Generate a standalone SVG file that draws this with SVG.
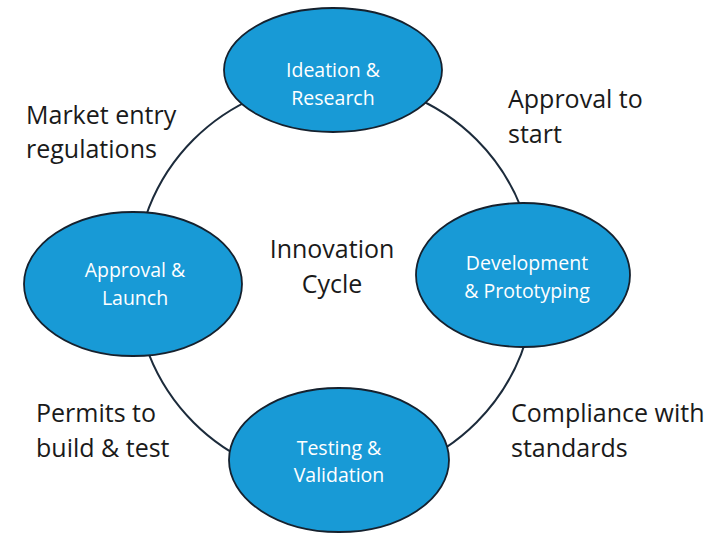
<svg xmlns="http://www.w3.org/2000/svg" width="724" height="534" viewBox="0 0 724 534">
  <style>
    .ring { fill: none; stroke: #1c2b3b; stroke-width: 2; }
    .node { fill: #189ad6; stroke: #15212e; stroke-width: 1.8; }
    .ntext { font-family: "Open Sans", "Liberation Sans", sans-serif; font-size: 19.5px; fill: #ffffff; text-anchor: middle; }
    .label { font-family: "Open Sans", "Liberation Sans", sans-serif; font-size: 25px; fill: #1a1a1a; }
  </style>
  <rect width="724" height="534" fill="#ffffff"/>

  <!-- cycle ring linking the stages -->
  <g id="connectors">
    <circle class="ring" cx="335" cy="281" r="200"/>
  </g>

  <g id="ideation">
    <ellipse class="node" cx="333" cy="70" rx="109" ry="62"/>
    <text class="ntext" x="333" y="77">Ideation &amp;</text>
    <text class="ntext" x="333" y="105">Research</text>
  </g>

  <g id="development">
    <ellipse class="node" cx="523" cy="275" rx="107" ry="72"/>
    <text class="ntext" x="527" y="270">Development</text>
    <text class="ntext" x="527" y="298">&amp; Prototyping</text>
  </g>

  <g id="approval">
    <ellipse class="node" cx="133" cy="284" rx="109" ry="72"/>
    <text class="ntext" x="135" y="277">Approval &amp;</text>
    <text class="ntext" x="135" y="305">Launch</text>
  </g>

  <g id="testing">
    <ellipse class="node" cx="339" cy="460" rx="110" ry="72"/>
    <text class="ntext" x="339" y="455">Testing &amp;</text>
    <text class="ntext" x="339" y="482">Validation</text>
  </g>

  <g id="labels">
    <text class="label" x="26" y="124">Market entry</text>
    <text class="label" x="26" y="158">regulations</text>
    <text class="label" x="508" y="108">Approval to</text>
    <text class="label" x="508" y="143">start</text>
    <text class="label" x="332" y="258" text-anchor="middle">Innovation</text>
    <text class="label" x="332" y="293" text-anchor="middle">Cycle</text>
    <text class="label" x="36" y="422">Permits to</text>
    <text class="label" x="36" y="457">build &amp; test</text>
    <text class="label" x="511" y="422">Compliance with</text>
    <text class="label" x="511" y="457">standards</text>
  </g>
</svg>
